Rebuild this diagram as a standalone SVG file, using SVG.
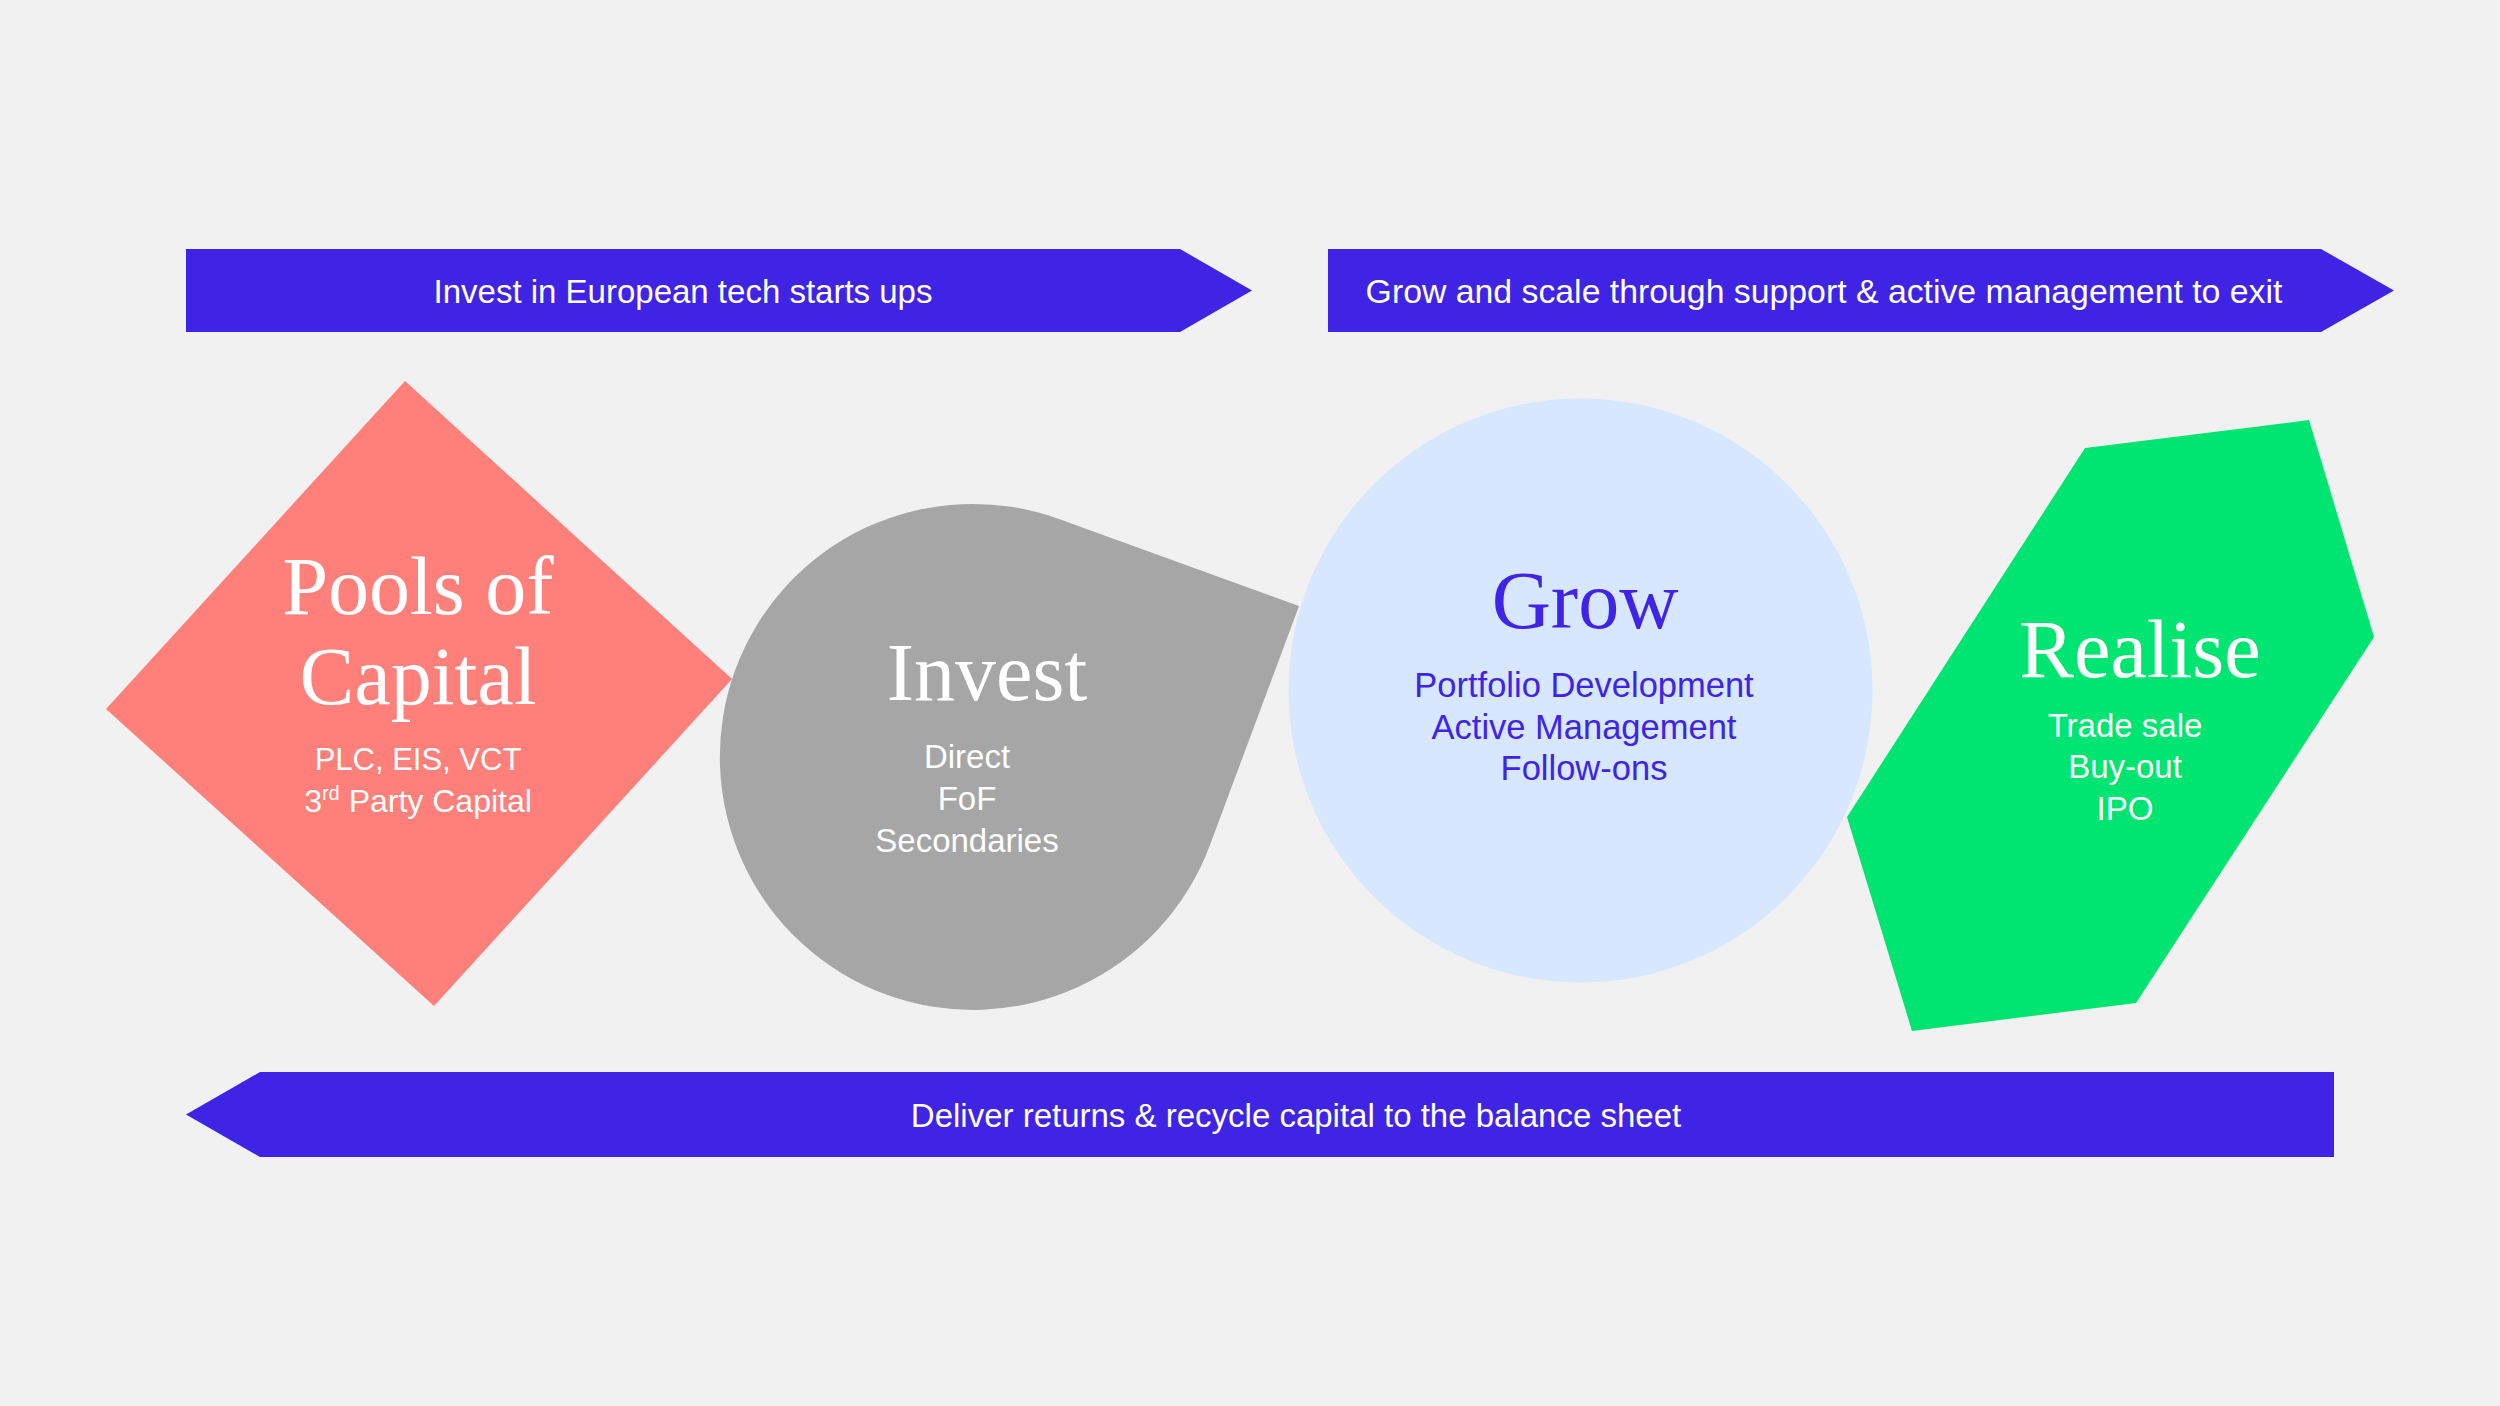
<svg xmlns="http://www.w3.org/2000/svg" width="2500" height="1406" viewBox="0 0 2500 1406">
<style>
.bg{fill:#F1F1F1}
.band{fill:#4024E6}
.bandtxt{font-family:"Liberation Sans",Arial,sans-serif;font-size:33px;fill:#FFFFFF;text-anchor:middle}
.title{font-family:"Liberation Serif","Times New Roman",serif;font-size:82px;text-anchor:middle}
.sub{font-family:"Liberation Sans",Arial,sans-serif;font-size:33px;text-anchor:middle}
.white{fill:#FFFFFF}
.blue{fill:#4024E6}
.wide{font-size:34.5px}
</style>
<rect class="bg" x="0" y="0" width="2500" height="1406"/>
<g id="connectors">
  <g id="arrow-invest">
    <polygon class="band" points="186,249 1180,249 1252,290.5 1180,332 186,332"/>
    <text class="bandtxt" x="683" y="302.5">Invest in European tech starts ups</text>
  </g>
  <g id="arrow-grow">
    <polygon class="band" points="1328,249 2321,249 2394,290.5 2321,332 1328,332"/>
    <text class="bandtxt" x="1824" y="302.5" style="font-size:33.8px">Grow and scale through support &amp; active management to exit</text>
  </g>
  <g id="arrow-return">
    <polygon class="band" points="186,1114.5 260,1072 2334,1072 2334,1157 260,1157"/>
    <text class="bandtxt" x="1296" y="1126.5">Deliver returns &amp; recycle capital to the balance sheet</text>
  </g>
</g>
<g id="node-pools">
  <polygon fill="#FF7F7B" points="405,381 732,679 434,1006 106,709"/>
  <text class="title white" x="418" y="614">Pools of</text>
  <text class="title white" x="418" y="704">Capital</text>
  <text class="sub white" x="418" y="769.5" style="font-size:31px">PLC, EIS, VCT</text>
  <text class="sub white" x="418" y="811.5" style="font-size:32px">3<tspan style="font-size:20px" dy="-12">rd</tspan><tspan dy="12"> Party Capital</tspan></text>
</g>
<g id="node-invest">
  <path fill="#A6A6A6" d="M1299,606 L1059,519 A253,253 0 1 0 1210,845 Z"/>
  <text class="title white" x="987" y="700">Invest</text>
  <text class="sub white" x="967" y="767.5">Direct</text>
  <text class="sub white" x="967" y="810">FoF</text>
  <text class="sub white" x="967" y="852">Secondaries</text>
</g>
<g id="node-grow">
  <circle fill="#D6E7FF" cx="1580.5" cy="690.5" r="292"/>
  <text class="title blue" x="1585" y="628">Grow</text>
  <text class="sub blue wide" x="1584" y="697">Portfolio Development</text>
  <text class="sub blue wide" x="1584" y="739">Active Management</text>
  <text class="sub blue wide" x="1584" y="780">Follow-ons</text>
</g>
<g id="node-realise">
  <polygon fill="#00E572" points="2085,448 2309,420 2374,637 2136,1003 1912,1031 1847,817"/>
  <text class="title white" x="2140" y="676.5">Realise</text>
  <text class="sub white" x="2125" y="737">Trade sale</text>
  <text class="sub white" x="2125" y="778">Buy-out</text>
  <text class="sub white" x="2125" y="820">IPO</text>
</g>
</svg>
